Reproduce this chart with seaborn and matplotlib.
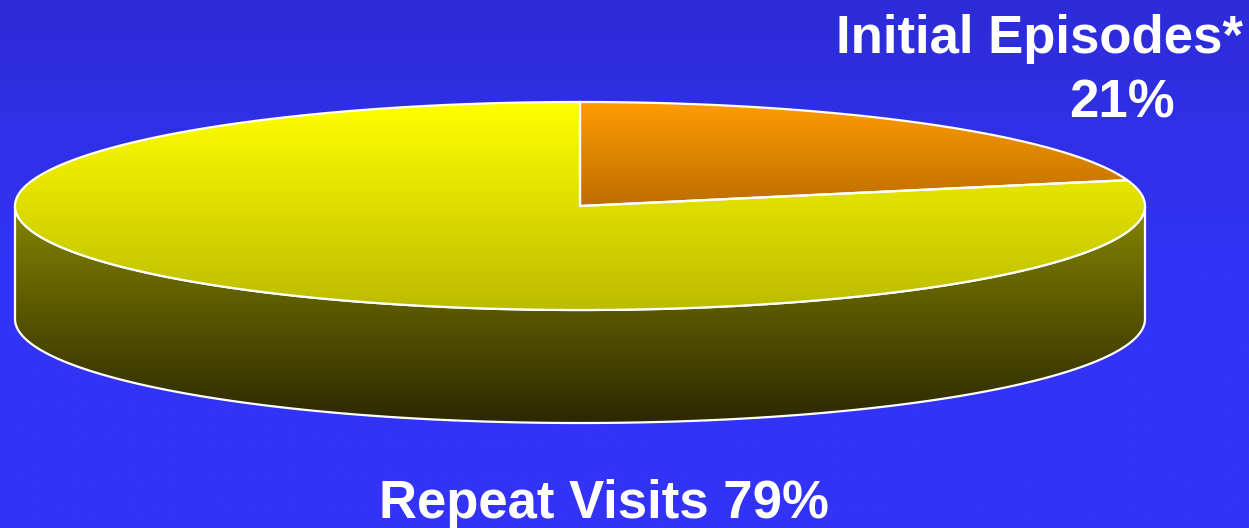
import numpy as np
import matplotlib
matplotlib.use("Agg")
import matplotlib.pyplot as plt
import seaborn as sns
from matplotlib.patches import Polygon
from matplotlib.colors import LinearSegmentedColormap

# ---- data ----
labels = ["Initial Episodes*", "Repeat Visits"]
shares = [21, 79]

# ---- style ----
top_colors = [("#ff9c00", "#bd6e00"), ("#ffff00", "#bcbc00")]
side_colors = [("#8a6000", "#2e2000"), ("#868600", "#2b2700")]

sns.set_theme(style="white")
plt.rcParams['font.family'] = ['Liberation Sans', 'DejaVu Sans']

W, H = 1249, 528
fig = plt.figure(figsize=(W / 100, H / 100), dpi=100)
ax = fig.add_axes([0, 0, 1, 1])
ax.axis('off')

cx, cy, rx, ry, depth = 580, 206, 565, 104, 113


def vgrad(y0, y1, stops, clip=None, x0=0, x1=W, z=1):
    cmap = LinearSegmentedColormap.from_list('g', stops)
    g = np.linspace(0, 1, 256).reshape(-1, 1)
    im = ax.imshow(g, cmap=cmap, extent=(x0, x1, y1, y0), aspect='auto',
                   interpolation='bilinear', zorder=z)
    if clip is not None:
        im.set_clip_path(clip)
    return im


def ell(th, dy=0):
    t = np.radians(th)
    return np.column_stack([cx + rx * np.cos(t), cy + dy - ry * np.sin(t)])


# background
vgrad(0, H, [(0, "#2c2cd8"), (0.5, "#3333f6"), (1, "#3333f8")], z=0)

# wedge angles (start at 12 o'clock, clockwise)
total = sum(shares)
angles = []
a = 90.0
for s in shares:
    b = a - 360.0 * s / total
    angles.append((a, b))
    a = b

# sides (front half: sin <= 0 -> theta in [180, 360] mod 360)
for i, (a0, a1) in enumerate(angles):
    th = np.linspace(a0, a1, 2000)
    m = np.sin(np.radians(th)) <= 1e-9
    if not m.any():
        continue
    idx = np.where(m)[0]
    # split into contiguous runs
    runs = np.split(idx, np.where(np.diff(idx) > 1)[0] + 1)
    for r in runs:
        t = th[r]
        top = ell(t)
        bot = ell(t[::-1], depth)
        pts = np.vstack([top, bot])
        poly = Polygon(pts, closed=True, facecolor='none', edgecolor='white',
                       lw=1.6, zorder=3)
        ax.add_patch(poly)
        c0, c1 = side_colors[i]
        vgrad(cy - 2, cy + ry + depth + 2, [c0, c1], clip=poly, z=2)

# top faces
for i, (a0, a1) in enumerate(angles):
    th = np.linspace(a0, a1, 800)
    pts = np.vstack([[cx, cy], ell(th)])
    poly = Polygon(pts, closed=True, facecolor='none', edgecolor='white',
                   lw=1.6, zorder=5)
    ax.add_patch(poly)
    c0, c1 = top_colors[i]
    ys = pts[:, 1]
    vgrad(ys.min(), ys.max(), [c0, c1], clip=poly, z=4)

ax.set_xlim(0, W)
ax.set_ylim(H, 0)

# labels
tk = dict(color='white', fontsize=38, fontweight='bold', ha='center',
          va='baseline', zorder=10)
ax.text(1040, 53, labels[0], **tk)
ax.text(1122, 117, f"{shares[0]}%", **tk)
ax.text(604, 518, f"{labels[1]} {shares[1]}%", **tk)

fig.savefig("out.png", dpi=100)
